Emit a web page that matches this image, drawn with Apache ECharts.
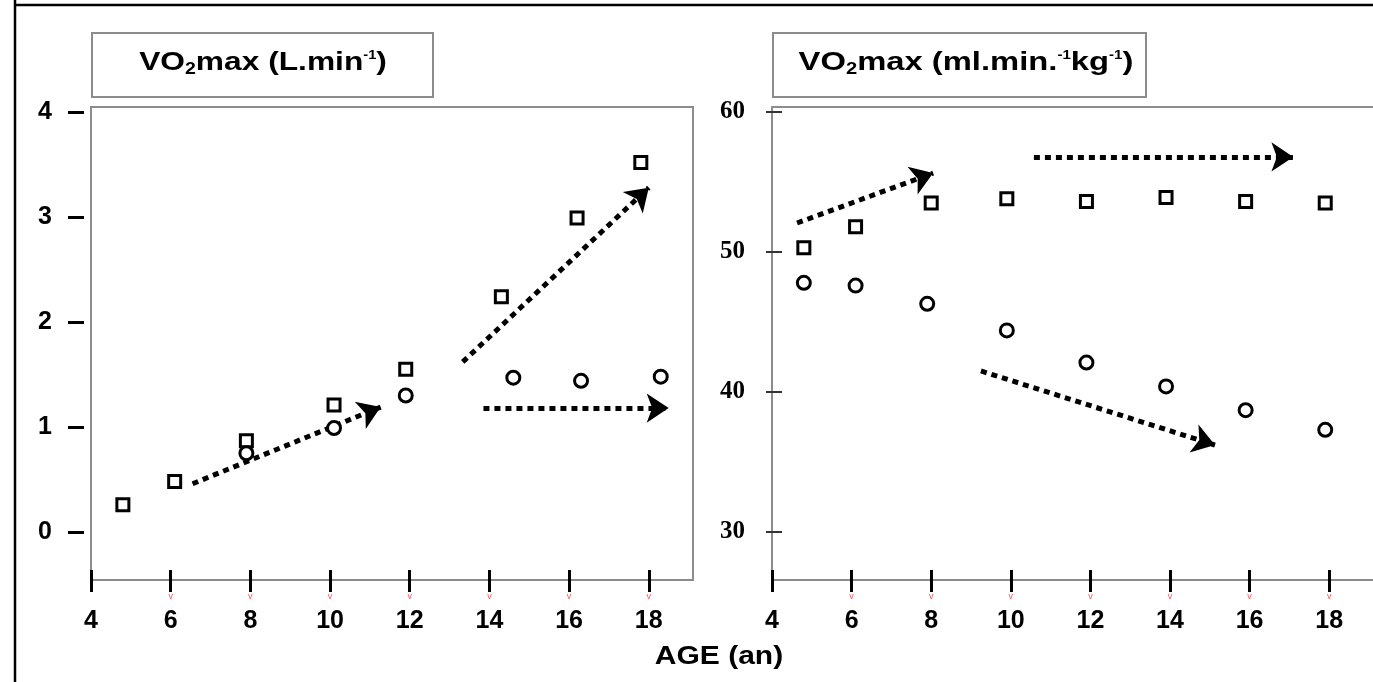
<!DOCTYPE html>
<html><head><meta charset="utf-8">
<script src="https://cdn.jsdelivr.net/npm/echarts@6/dist/echarts.min.js"></script>
<style>html,body{margin:0;padding:0;background:#fff}#c{width:1373px;height:682px}</style>
</head><body><div id="c"></div>
<script>
// ---- data ----
const xTicks = [4, 6, 8, 10, 12, 14, 16, 18];
const leftYTicks = [0, 1, 2, 3, 4];
const rightYTicks = [30, 40, 50, 60];

const leftSquareAge = [4.8, 6.1, 7.9, 10.1, 11.9, 14.3, 16.2, 17.8];
const leftSquareVO2 = [0.26, 0.48, 0.87, 1.21, 1.55, 2.24, 2.99, 3.52];
const leftCircleAge = [7.9, 10.1, 11.9, 14.6, 16.3, 18.3];
const leftCircleVO2 = [0.75, 0.99, 1.30, 1.47, 1.44, 1.48];

const rightSquareAge = [4.8, 6.1, 8.0, 9.9, 11.9, 13.9, 15.9, 17.9];
const rightSquareVO2 = [50.3, 51.8, 53.5, 53.8, 53.6, 53.9, 53.6, 53.5];
const rightCircleAge = [4.8, 6.1, 7.9, 9.9, 11.9, 13.9, 15.9, 17.9];
const rightCircleVO2 = [47.8, 47.6, 46.3, 44.4, 42.1, 40.4, 38.7, 37.3];

const leftArrows = [
  [[6.55, 0.46], [11.27, 1.19]],
  [[13.33, 1.62], [18.0, 3.28]],
  [[13.85, 1.18], [18.5, 1.18]]
];
const rightArrows = [
  [[4.63, 52.07], [8.05, 55.64]],
  [[10.58, 56.79], [17.1, 56.79]],
  [[9.25, 41.5], [15.13, 36.21]]
];

const leftTitle = '{b|VO}{s|2}{b|max (L.min}{p|-1}{b|)}';
const rightTitle = '{b|VO}{s|2}{b|max (ml.min.}{p|-1}{b|kg}{p|-1}{b|)}';
const xName = 'AGE (an)';

// ---- chart ----
const SANS = "'Liberation Sans', Arial, sans-serif";
const SERIF = "'Liberation Serif', 'Times New Roman', serif";
const zip = (a, b) => a.map((v, i) => [v, b[i]]);
const gray = '#8c8c8c';

function xAxesFor(grid, max, withTop) {
  const axes = [
    {
      gridIndex: grid, type: 'value', min: 4, max: max, position: 'bottom',
      axisLine: { show: true, onZero: false, lineStyle: { color: gray, width: 2 } },
      axisTick: { show: true, customValues: xTicks, inside: true, length: 10, lineStyle: { color: '#000', width: 3 } },
      axisLabel: { show: true, customValues: xTicks, margin: 29, color: '#000', fontSize: 25, fontWeight: 'bold', fontFamily: SANS },
      splitLine: { show: false }
    },
    {
      gridIndex: grid, type: 'value', min: 4, max: max, position: 'bottom',
      axisLine: { show: false, onZero: false },
      axisTick: { show: true, customValues: xTicks, inside: false, length: 12, lineStyle: { color: '#000', width: 3 } },
      axisLabel: { show: true, customValues: xTicks.slice(1), margin: 12, color: '#f05a5a', fontSize: 9, fontFamily: SANS, formatter: () => 'v' },
      splitLine: { show: false }
    }
  ];
  if (withTop) {
    axes.push({
      gridIndex: grid, type: 'value', min: 4, max: max, position: 'top',
      axisLine: { show: true, onZero: false, lineStyle: { color: gray, width: 2 } },
      axisTick: { show: false }, axisLabel: { show: false }, splitLine: { show: false }
    });
  }
  return axes;
}

const arrowStyle = { color: '#000', width: 5, type: [6, 5], opacity: 1, curveness: 0, cap: 'butt' };
const boxStyle = { color: '#fff', borderColor: '#000', borderWidth: 3, opacity: 1 };
const titleRich = {
  b: { fontSize: 26, fontWeight: 'bold', fontFamily: SANS, lineHeight: 30, verticalAlign: 'middle' },
  s: { fontSize: 16, fontWeight: 'bold', fontFamily: SANS, lineHeight: 16, verticalAlign: 'bottom' },
  p: { fontSize: 12, fontWeight: 'bold', fontFamily: SANS, verticalAlign: 'top', padding: [2, 0, 0, 0] }
};

const option = {
  animation: false,
  backgroundColor: '#fff',
  grid: [
    { left: 91, top: 107, width: 602, height: 473, show: true, borderColor: gray, borderWidth: 2, backgroundColor: 'transparent' },
    { left: 772, top: 107, width: 601, height: 473, show: false }
  ],
  xAxis: [...xAxesFor(0, 19.11, false), ...xAxesFor(1, 19.1, true)],
  yAxis: [
    {
      gridIndex: 0, type: 'value', min: -0.457, max: 4.048, offset: 7, position: 'left',
      axisLine: { show: false, onZero: false },
      axisTick: { show: true, customValues: leftYTicks, length: 16, lineStyle: { color: '#000', width: 3 } },
      axisLabel: { show: true, customValues: leftYTicks, margin: 32, color: '#000', fontSize: 25, fontWeight: 'bold', fontFamily: SANS },
      splitLine: { show: false }
    },
    {
      gridIndex: 1, type: 'value', min: 26.57, max: 60.357, position: 'left',
      axisLine: { show: true, onZero: false, lineStyle: { color: gray, width: 2 } },
      axisTick: { show: true, customValues: rightYTicks, length: 6, lineStyle: { color: '#333', width: 2 } },
      axisLabel: { show: true, customValues: rightYTicks, margin: 27, color: '#000', fontSize: 25, fontWeight: 'bold', fontFamily: SERIF },
      splitLine: { show: false }
    },
    {
      gridIndex: 1, type: 'value', min: 26.57, max: 60.357, position: 'left',
      axisLine: { show: false, onZero: false },
      axisTick: { show: true, customValues: rightYTicks, inside: true, length: 10, lineStyle: { color: '#333', width: 2 } },
      axisLabel: { show: false },
      splitLine: { show: false }
    }
  ],
  series: [
    { type: 'scatter', xAxisIndex: 0, yAxisIndex: 0, data: zip(leftSquareAge, leftSquareVO2), symbol: 'rect', symbolSize: 12, itemStyle: boxStyle, z: 3 },
    { type: 'scatter', xAxisIndex: 0, yAxisIndex: 0, data: zip(leftCircleAge, leftCircleVO2), symbol: 'circle', symbolSize: 13, itemStyle: boxStyle, z: 3 },
    { type: 'scatter', xAxisIndex: 2, yAxisIndex: 1, data: zip(rightSquareAge, rightSquareVO2), symbol: 'rect', symbolSize: 12, itemStyle: boxStyle, z: 3 },
    { type: 'scatter', xAxisIndex: 2, yAxisIndex: 1, data: zip(rightCircleAge, rightCircleVO2), symbol: 'circle', symbolSize: 13, itemStyle: boxStyle, z: 3 },
    { type: 'lines', coordinateSystem: 'cartesian2d', xAxisIndex: 0, yAxisIndex: 0,
      data: leftArrows.map(c => ({ coords: c })), symbol: ['none', 'arrow'], symbolSize: [0, 22], lineStyle: arrowStyle, z: 2 },
    { type: 'lines', coordinateSystem: 'cartesian2d', xAxisIndex: 2, yAxisIndex: 1,
      data: rightArrows.map(c => ({ coords: c })), symbol: ['none', 'arrow'], symbolSize: [0, 22], lineStyle: arrowStyle, z: 2 }
  ],
  graphic: [
    { type: 'line', shape: { x1: 15, y1: 0, x2: 15, y2: 682 }, style: { stroke: '#000', lineWidth: 2.5 } },
    { type: 'line', shape: { x1: 14, y1: 5, x2: 1373, y2: 5 }, style: { stroke: '#000', lineWidth: 2.5 } },
    { type: 'rect', shape: { x: 92, y: 33, width: 341, height: 64 }, style: { fill: '#fff', stroke: gray, lineWidth: 2 } },
    { type: 'rect', shape: { x: 773, y: 33, width: 373, height: 64 }, style: { fill: '#fff', stroke: gray, lineWidth: 2 } },
    { type: 'text', x: 263, y: 63, scaleX: 1.22, style: {
        text: leftTitle, align: 'center', verticalAlign: 'middle', fill: '#000', rich: titleRich } },
    { type: 'text', x: 966, y: 63, scaleX: 1.26, style: {
        text: rightTitle, align: 'center', verticalAlign: 'middle', fill: '#000', rich: titleRich } },
    { type: 'text', x: 719, y: 657, scaleX: 1.2, style: { text: xName, align: 'center', verticalAlign: 'middle', fill: '#000',
        font: "bold 25px 'Liberation Sans', Arial, sans-serif" } }
  ]
};
const chart = echarts.init(document.getElementById('c'), null, { renderer: 'canvas' });
chart.setOption(option);
</script></body></html>
